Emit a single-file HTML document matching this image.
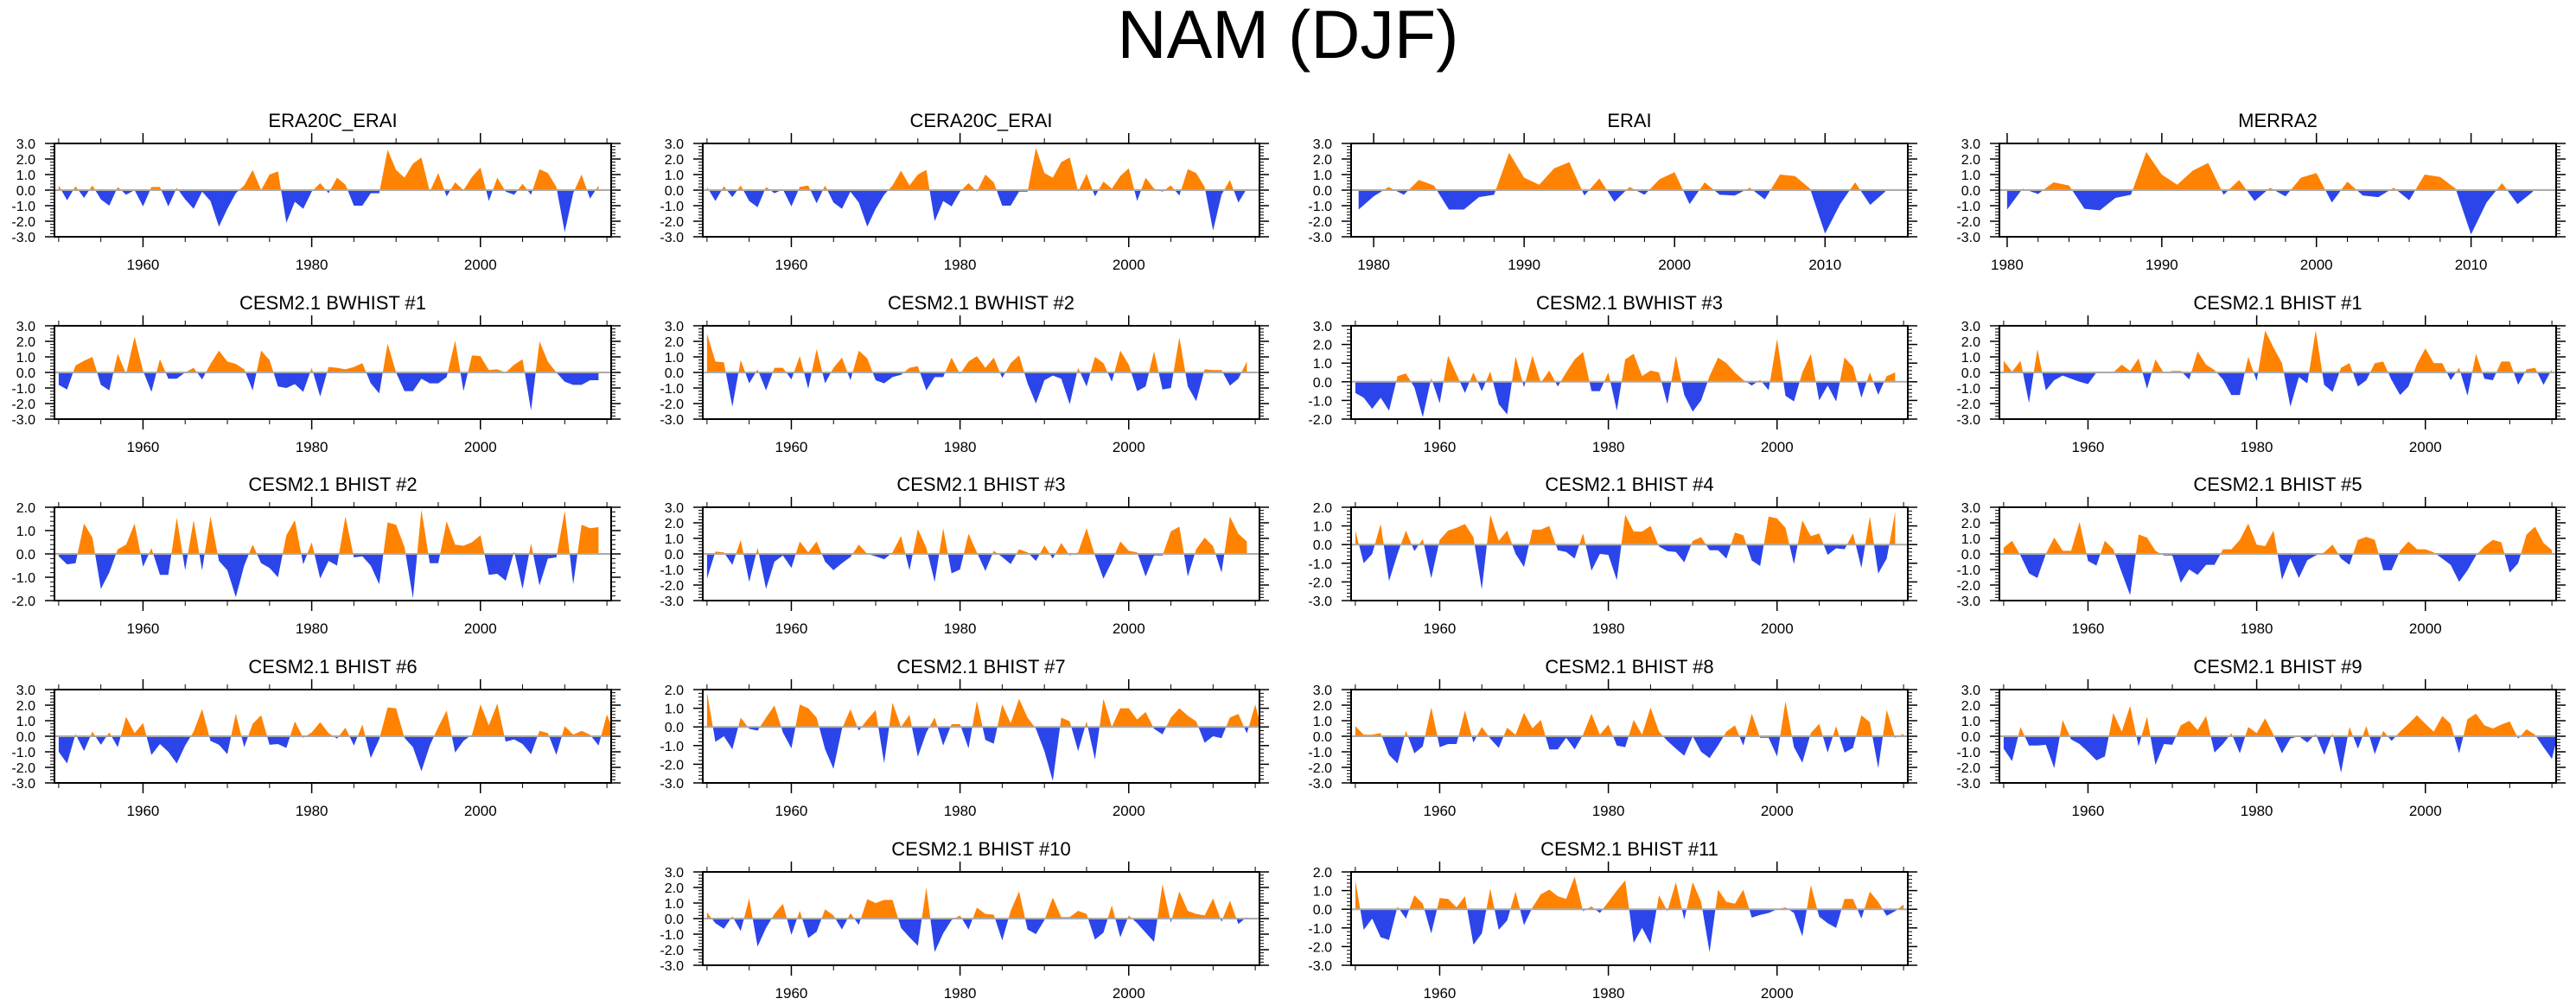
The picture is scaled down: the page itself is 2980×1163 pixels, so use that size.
<!DOCTYPE html>
<html><head><meta charset="utf-8"><style>
html,body{margin:0;padding:0;background:#fff;}
svg{display:block;font-family:"Liberation Sans",sans-serif;}
</style></head>
<body>
<svg id="fig" width="2980" height="1163" viewBox="0 0 2980 1163" xmlns="http://www.w3.org/2000/svg">
<text x="1490" y="67" text-anchor="middle" font-size="79" fill="#000">NAM (DJF)</text>
</svg>
<script>
const titles = ["ERA20C_ERAI","CERA20C_ERAI","ERAI","MERRA2",
"CESM2.1 BWHIST #1","CESM2.1 BWHIST #2","CESM2.1 BWHIST #3","CESM2.1 BHIST #1",
"CESM2.1 BHIST #2","CESM2.1 BHIST #3","CESM2.1 BHIST #4","CESM2.1 BHIST #5",
"CESM2.1 BHIST #6","CESM2.1 BHIST #7","CESM2.1 BHIST #8","CESM2.1 BHIST #9",
"CESM2.1 BHIST #10","CESM2.1 BHIST #11"];
const startYears = [1950,1950,1979,1980,1950,1950,1950,1950,1950,1950,1950,1950,1950,1950,1950,1950,1950,1950];
const yMins = [-3,-3,-3,-3, -3,-3,-2,-3, -2,-3,-3,-3, -3,-3,-3,-3, -3,-3];
const yMaxs = [3,3,3,3, 3,3,3,3, 2,3,2,3, 3,2,3,3, 3,2];
const s0 = [0.3,-0.65,0.25,-0.5,0.3,-0.6,-1.0,0.2,-0.3,0.0,-1.05,0.2,0.2,-1.05,0.15,-0.6,-1.2,-0.1,-0.7,-2.35,-1.2,-0.2,0.3,1.3,0.0,1.0,1.2,-2.1,-0.75,-1.2,-0.1,0.45,-0.2,0.8,0.35,-1.0,-1.0,-0.2,-0.2,2.6,1.3,0.8,1.7,2.1,-0.1,1.1,-0.4,0.5,0.0,0.85,1.45,-0.7,0.8,-0.1,-0.3,0.4,-0.3,1.35,1.1,0.2,-2.7,-0.2,1.0,-0.55,0.3];
const s1 = [0.2,-0.7,0.25,-0.45,0.3,-0.7,-1.1,0.2,-0.2,0.05,-1.05,0.2,0.3,-0.85,0.3,-0.8,-1.2,-0.1,-0.8,-2.35,-1.2,-0.3,0.3,1.25,0.3,1.0,1.3,-2.0,-0.7,-1.05,-0.1,0.45,-0.1,1.0,0.5,-1.0,-1.0,-0.1,-0.1,2.7,1.1,0.8,1.8,2.1,-0.1,1.05,-0.4,0.55,0.1,0.9,1.4,-0.7,0.8,0.1,-0.1,0.3,-0.35,1.35,1.1,0.2,-2.6,-0.3,0.65,-0.8,0.1];
const s2 = [-1.25,-0.4,0.2,-0.3,0.65,0.3,-1.25,-1.25,-0.45,-0.3,2.4,0.8,0.35,1.4,1.8,-0.35,0.75,-0.75,0.2,-0.3,0.7,1.15,-0.9,0.5,-0.3,-0.35,0.15,-0.6,1.0,0.9,0.1,-2.8,-0.9,0.5,-0.95,-0.1];
const s3 = [-1.25,0.1,-0.25,0.5,0.3,-1.2,-1.3,-0.5,-0.3,2.45,1.0,0.35,1.25,1.75,-0.3,0.65,-0.7,0.15,-0.4,0.8,1.1,-0.8,0.55,-0.35,-0.45,0.15,-0.65,1.0,0.85,0.1,-2.85,-0.8,0.45,-0.9,-0.1];
const s4 = [-0.8,-1.1,0.45,0.75,1.0,-0.8,-1.15,1.2,-0.1,2.3,0.1,-1.25,0.85,-0.4,-0.4,0.0,0.3,-0.45,0.55,1.4,0.7,0.55,0.2,-1.15,1.4,0.8,-0.9,-1.0,-0.75,-1.25,0.3,-1.55,0.35,0.3,0.2,0.35,0.6,-0.7,-1.35,1.85,0.0,-1.2,-1.2,-0.4,-0.7,-0.7,-0.3,2.05,-1.2,1.1,1.05,0.15,0.2,0.0,0.5,0.85,-2.45,2.0,0.7,0.0,-0.6,-0.8,-0.8,-0.5,-0.5];
const s5 = [2.5,0.7,0.65,-2.2,0.8,-0.7,0.2,-1.15,0.3,0.3,-0.45,1.05,-1.05,1.5,-0.7,0.3,0.95,-0.5,1.4,0.9,-0.5,-0.7,-0.3,-0.15,0.3,0.4,-1.15,-0.3,-0.3,0.95,-0.1,0.7,1.05,0.3,0.95,-0.35,0.6,1.1,-0.7,-2.0,-0.5,-0.2,-0.4,-2.05,0.3,-0.9,1.0,0.6,-0.6,1.4,0.5,-1.2,-0.9,1.35,-1.1,-1.0,2.25,-0.9,-1.85,0.2,0.15,0.15,-0.85,-0.4,0.7];
const s6 = [-0.6,-0.85,-1.45,-0.85,-1.55,0.3,0.45,-0.3,-1.9,0.2,-1.15,1.4,0.4,-0.6,0.5,-0.5,0.55,-1.2,-1.75,1.35,-0.3,1.4,-0.05,0.6,-0.25,0.5,1.2,1.6,-0.5,-0.5,0.5,-1.55,1.2,1.5,0.3,0.6,0.5,-1.2,1.4,-0.7,-1.6,-1.0,0.3,1.3,1.0,0.5,0.1,-0.2,0.1,-0.45,2.3,-0.75,-1.05,0.5,1.5,-1.0,-0.2,-1.05,1.3,0.8,-0.85,0.5,-0.7,0.3,0.5];
const s7 = [0.75,0.05,0.75,-1.95,1.5,-1.15,-0.5,-0.2,-0.4,-0.6,-0.75,0.0,-0.05,0.0,0.5,0.1,0.9,-1.05,0.85,-0.05,0.1,0.1,-0.45,1.35,0.5,0.15,-0.45,-1.45,-1.45,1.0,-0.55,2.7,1.6,0.6,-2.2,-0.3,-0.7,2.7,-0.8,-1.25,0.3,0.6,-0.9,-0.5,0.6,0.7,-0.5,-1.45,-0.9,0.55,1.55,0.6,0.6,-0.5,0.3,-1.5,1.2,-0.4,-0.5,0.7,0.7,-0.8,0.2,0.3,-0.8,0.2];
const s8 = [-0.1,-0.45,-0.4,1.3,0.7,-1.5,-0.8,0.2,0.4,1.3,-0.55,0.25,-0.9,-0.9,1.55,-0.7,1.45,-0.7,1.6,-0.3,-0.7,-1.85,-0.5,0.4,-0.4,-0.6,-1.0,0.8,1.45,-0.45,0.5,-1.05,-0.3,-0.5,1.6,-0.15,-0.1,-0.5,-1.3,1.35,1.25,0.3,-1.9,1.9,-0.4,-0.4,1.4,0.4,0.35,0.5,0.8,-0.9,-0.85,-1.15,0.1,-1.5,0.45,-1.35,-0.2,-0.15,1.85,-1.3,1.25,1.1,1.15];
const s9 = [-1.6,0.15,0.1,-0.7,0.9,-1.8,0.4,-2.25,-0.5,-0.1,-0.9,0.8,0.1,0.8,-0.5,-1.05,-0.6,-0.2,0.6,0.0,-0.15,-0.35,0.1,1.15,-1.05,1.6,0.4,-1.8,1.65,-1.25,-1.0,1.3,0.1,-1.1,0.2,-0.2,-0.65,0.3,0.1,-0.45,0.55,-0.3,0.7,-0.1,0.1,1.65,-0.1,-1.6,-0.5,0.8,0.2,0.1,-1.45,-0.1,-0.1,1.45,1.75,-1.45,0.3,1.05,0.5,-1.2,2.4,1.3,0.8];
const s10 = [0.75,-1.0,-0.5,1.1,-1.95,-0.5,0.75,-0.35,0.3,-1.8,0.25,0.75,0.9,1.1,0.4,-2.4,1.6,0.2,0.75,-0.5,-1.2,0.8,0.8,1.0,-0.3,-0.4,-0.75,0.6,-1.4,-0.5,-0.55,-1.9,1.6,0.7,0.7,1.0,-0.1,-0.35,-0.4,-0.95,0.2,0.4,-0.3,-0.3,-0.75,0.65,0.5,-0.85,-1.15,1.5,1.4,0.9,-1.05,1.3,0.45,0.6,-0.55,-0.2,-0.25,0.6,-1.25,1.5,-1.55,-0.75,1.75];
const s11 = [0.4,0.85,-0.1,-1.25,-1.55,0.0,1.05,0.2,0.2,2.05,-0.45,-0.75,0.85,0.3,-1.2,-2.65,1.25,1.05,0.2,-0.1,-0.1,-1.85,-1.0,-1.35,-0.7,-0.7,0.3,0.3,0.9,1.95,0.6,0.5,1.5,-1.65,-0.3,-1.55,-0.4,-0.1,0.1,0.6,-0.3,-0.7,0.9,1.1,0.9,-1.05,-1.05,0.2,0.8,0.3,0.3,0.1,-0.3,-0.7,-1.8,-1.05,-0.1,0.5,0.9,0.75,-1.2,-0.6,1.25,1.75,0.7,0.25];
const s12 = [-1.0,-1.75,0.15,-0.95,0.3,-0.55,0.25,-0.7,1.25,0.2,0.85,-1.2,-0.5,-1.0,-1.75,-0.6,0.3,1.75,-0.3,-0.55,-1.15,1.45,-0.7,0.8,1.35,-0.55,-0.5,-0.75,0.95,-0.1,0.25,0.9,0.2,-0.15,0.55,-0.6,0.75,-1.4,-0.2,1.85,1.8,-0.1,-0.7,-2.25,-0.6,0.6,1.65,-1.05,-0.3,0.1,2.05,0.7,2.1,-0.35,-0.2,-0.5,-1.15,0.35,0.2,-1.2,0.65,0.1,0.35,0.1,-0.6,1.4,0.0];
const s13 = [1.85,-0.8,-0.5,-1.2,0.5,-0.1,-0.2,0.5,1.15,-0.3,-1.15,1.2,1.0,0.5,-1.2,-2.25,-0.1,0.95,-0.2,0.4,0.9,-1.95,1.3,0.0,0.65,-1.6,-0.3,0.5,-1.0,0.15,0.15,-1.15,1.4,-0.7,-0.9,1.2,0.2,1.5,0.5,-0.1,-1.3,-2.9,0.5,0.3,-1.3,0.3,-1.75,1.5,0.0,1.0,1.0,0.4,0.8,-0.1,-0.4,0.5,1.0,0.6,0.3,-0.85,-0.5,-0.6,0.5,0.7,-0.35,1.2,-0.6];
const s14 = [0.65,0.1,0.1,0.2,-1.2,-1.75,0.35,-1.1,-0.65,1.85,-0.7,-0.5,-0.5,1.65,-0.4,0.6,-0.15,-0.75,0.55,0.1,1.5,0.5,1.05,-0.85,-0.85,-0.1,-0.85,0.1,1.45,0.1,0.75,-0.6,-0.7,1.05,0.1,1.85,0.3,-0.3,-0.8,-1.25,0.0,-1.0,-1.4,-0.6,0.3,0.7,-0.6,1.45,-0.1,-0.1,-1.3,2.25,-0.7,-1.7,0.2,0.8,-1.05,0.65,-1.05,-0.75,1.35,0.9,-2.05,1.7,-0.1,0.15];
const s15 = [-0.8,-1.6,0.6,-0.6,-0.6,-0.55,-2.05,1.05,-0.2,-0.5,-1.0,-1.55,-1.3,1.5,0.3,1.95,-0.65,1.25,-1.85,-0.5,-0.55,0.7,1.0,0.4,1.3,-1.05,-0.5,0.2,-1.1,0.6,0.2,1.15,0.1,-1.1,-0.15,0.0,-0.4,0.15,-1.2,0.2,-2.35,0.6,-0.8,0.65,-1.15,0.35,-0.3,0.3,0.8,1.35,0.8,0.3,1.3,0.8,-1.1,1.1,1.45,0.7,0.5,0.75,0.95,-0.15,0.45,0.1,-0.7,-1.45,0.7,0.6];
const s16 = [0.4,-0.3,-0.65,0.15,-0.8,1.3,-1.8,-0.6,0.3,0.95,-1.05,0.5,-1.25,-0.85,0.6,0.2,-0.7,0.35,-0.4,1.25,1.0,1.2,1.2,-0.6,-1.2,-1.75,2.0,-2.15,-0.95,-0.1,0.2,-0.7,0.7,0.3,0.25,-1.4,0.5,1.75,-0.7,-1.0,-0.1,1.35,0.1,0.1,0.5,0.3,-1.35,-0.9,0.85,-1.2,0.2,-0.3,-0.9,-1.5,2.2,-0.25,1.75,0.5,0.3,0.2,1.3,-0.2,1.15,-0.35,0.1];
const s17 = [1.55,-1.1,-0.5,-1.5,-1.65,0.15,-0.5,0.75,0.3,-1.3,0.6,0.55,0.1,0.7,-1.9,-1.3,1.1,-1.1,-0.6,0.95,-0.85,0.1,0.8,1.05,0.7,0.55,1.75,-0.1,0.15,-0.2,0.4,1.0,1.55,-1.8,-1.0,-1.85,0.75,-0.1,1.45,-0.55,1.45,0.4,-2.3,1.05,0.4,0.3,1.05,-0.45,-0.3,-0.2,0.0,0.1,-0.2,-1.45,1.3,-0.4,-0.75,-1.0,0.55,0.55,-0.5,0.95,0.4,-0.35,-0.1,0.25];
const series = [s0,s1,s2,s3,s4,s5,s6,s7,s8,s9,s10,s11,s12,s13,s14,s15,s16,s17];

const NS = "http://www.w3.org/2000/svg";
const svg = document.getElementById('fig');
const colX = [63, 813, 1563, 2313];
const rowY = [166, 377, 587, 798, 1009];
const PW = 644, PH = 108;
const slots = [[0,0],[0,1],[0,2],[0,3],[1,0],[1,1],[1,2],[1,3],[2,0],[2,1],[2,2],[2,3],[3,0],[3,1],[3,2],[3,3],[4,1],[4,2]];
function mk(tag, attrs, parent){const e=document.createElementNS(NS,tag);for(const k in attrs)e.setAttribute(k,attrs[k]);(parent||svg).appendChild(e);return e;}

series.forEach((vals, i) => {
  const px = colX[slots[i][1]], py = rowY[slots[i][0]];
  const sy = startYears[i];
  const x0 = (sy===1980)?1979.5:(sy===1979?1978.5:1949.5);
  const x1 = 2015.5;
  const ymin = yMins[i], ymax = yMaxs[i];
  const X = y => px + (y - x0) / (x1 - x0) * PW;
  const Y = v => py + (ymax - v) / (ymax - ymin) * PH;
  const g = mk('g', {});
  
  
  const t = mk('text', {x: px + PW/2, y: py - 19, 'text-anchor':'middle','font-size':22,fill:'#000'}, g);
  t.textContent = titles[i];
  
  
  // clip paths
  const cidA = 'ca'+i, cidB = 'cb'+i, cidP='cp'+i;
  const defs = mk('defs', {}, g);
  const ca = mk('clipPath', {id: cidA}, defs); mk('rect', {x:px, y:py, width:PW, height:Y(0)-py}, ca);
  const cb = mk('clipPath', {id: cidB}, defs); mk('rect', {x:px, y:Y(0), width:PW, height:py+PH-Y(0)}, cb);
  let d = 'M' + X(sy).toFixed(1) + ',' + Y(0).toFixed(1);
  vals.forEach((v, k) => { d += ' L' + X(sy+k).toFixed(1) + ',' + Y(v).toFixed(1); });
  d += ' L' + X(sy+vals.length-1).toFixed(1) + ',' + Y(0).toFixed(1) + ' Z';
  const pos = mk('path', {d: d, fill:'#ff8200', 'clip-path':'url(#'+cidA+')'}, g);
  
  
  const neg = mk('path', {d: d, fill:'#2b45ea', 'clip-path':'url(#'+cidB+')'}, g);
  
  
  const zl = mk('line', {x1:px, x2:px+PW, y1:Y(0), y2:Y(0), stroke:'#aaa','stroke-width':2}, g);
  
  
  // y ticks
  for (let v = ymin; v <= ymax + 1e-6; v += 0.2) {
    const major = Math.abs(v - Math.round(v)) < 1e-6;
    const len = major ? 11 : 5;
    const yy = Y(v);
    mk('line', {x1:px-len, x2:px, y1:yy, y2:yy, stroke:'#000','stroke-width':major?1.5:1}, g);
    mk('line', {x1:px+PW, x2:px+PW+len, y1:yy, y2:yy, stroke:'#000','stroke-width':major?1.5:1}, g);
    if (major) {
      const tl = mk('text', {x: px-22, y: yy+6, 'text-anchor':'end','font-size':16,fill:'#000'}, g);
      tl.textContent = Math.round(v).toFixed(1);
      
      
    }
  }
  // x ticks
  const short = (sy !== 1950);
  const minorStep = short ? 2 : 5, majorStep = short ? 10 : 20;
  const startT = Math.ceil(x0 / minorStep) * minorStep;
  for (let yr = startT; yr <= x1; yr += minorStep) {
    const major = (yr % majorStep === 0) && (short || yr !== 1940);
    const len = major ? 12 : 6;
    const xx = X(yr);
    mk('line', {x1:xx, x2:xx, y1:py-len, y2:py, stroke:'#000','stroke-width':major?1.5:1}, g);
    mk('line', {x1:xx, x2:xx, y1:py+PH, y2:py+PH+len, stroke:'#000','stroke-width':major?1.5:1}, g);
    if (major) {
      const xl = mk('text', {x: xx, y: py+PH+38, 'text-anchor':'middle','font-size':17,fill:'#000'}, g);
      xl.textContent = yr;
      
      
    }
  }
  const box = mk('rect', {x:px, y:py, width:PW, height:PH, fill:'none', stroke:'#000','stroke-width':2}, g);
  
  
});
</script>
</body></html>
